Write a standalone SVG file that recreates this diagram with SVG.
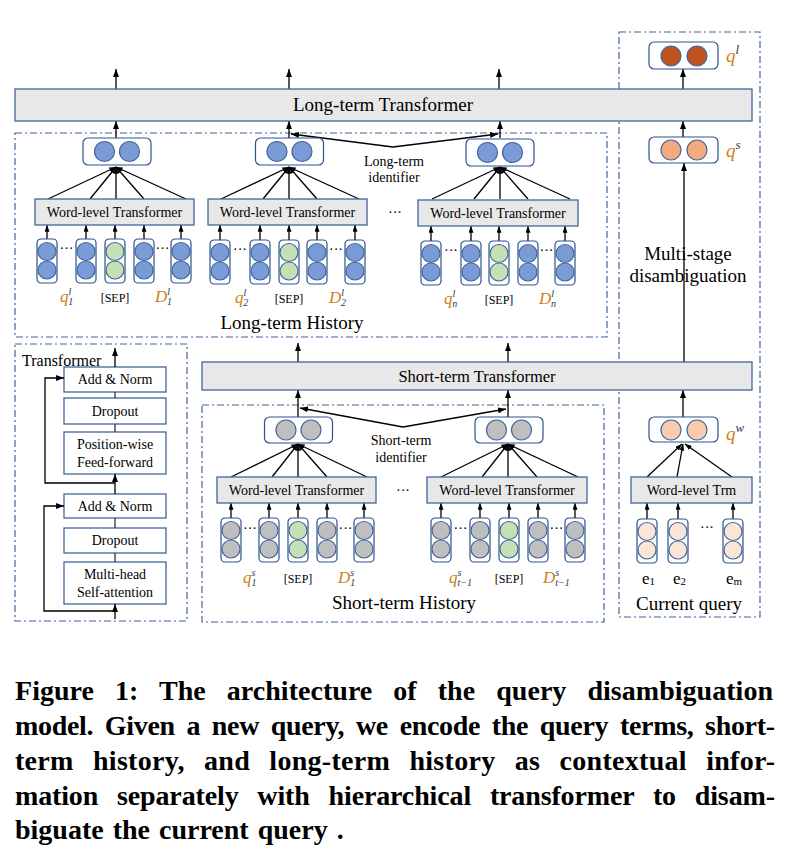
<svg xmlns="http://www.w3.org/2000/svg" xmlns:xlink="http://www.w3.org/1999/xlink" width="808" height="860" viewBox="0 0 808 860">
<style>
text{font-family:"Liberation Serif","Times New Roman",serif;fill:#000}
.gbox{fill:#E8E8E8;stroke:#41669C;stroke-width:1.3}
.wbox{fill:#fff;stroke:#41669C;stroke-width:1.3}
.rbox{fill:#fff;stroke:#2F528F;stroke-width:1.2}
.dd{fill:none;stroke:#41669C;stroke-width:1.2;stroke-dasharray:7 3 2 3}
.ln{fill:none;stroke:#000;stroke-width:1.3}
.cB{fill:#7B9BD6;stroke:#41669C;stroke-width:1.2}
.cG{fill:#C5E0B4;stroke:#41669C;stroke-width:1.2}
.cY{fill:#BFBFBF;stroke:#41669C;stroke-width:1.2}
.cP{fill:#FBE5D6;stroke:#41669C;stroke-width:1.2}
.cQ{fill:#F4A97E;stroke:#41669C;stroke-width:1.2}
.cW{fill:#F8CBAD;stroke:#41669C;stroke-width:1.2}
.cL{fill:#BF531F;stroke:#41669C;stroke-width:1.2}
.t13{font-size:14px}
.t14{font-size:14px}
.t17{font-size:17px}
.t19{font-size:19px}
.sep{font-size:12px}
.mq{font-style:italic;fill:#C98211}
.ms{font-size:10px;font-style:italic;fill:#1F3864}
.cap{font-family:"Liberation Serif","Times New Roman",serif;font-weight:bold;font-size:28px}
</style>
<defs>
<marker id="ah" viewBox="0 0 8 6" refX="8" refY="3" markerWidth="8" markerHeight="6" markerUnits="userSpaceOnUse" orient="auto"><path d="M0,0 L8,3 L0,6 z" fill="#000"/></marker>
<marker id="af" viewBox="0 0 8 6" refX="8" refY="3" markerWidth="7" markerHeight="5" markerUnits="userSpaceOnUse" orient="auto"><path d="M0,0 L8,3 L0,6 z" fill="#000"/></marker>
<g id="colB"><rect class="rbox" x="-10" y="0" width="20" height="44" rx="4"/><circle class="cB" cx="0" cy="12.5" r="9"/><circle class="cB" cx="0" cy="31" r="9"/></g>
<g id="colBG"><rect class="rbox" x="-10" y="0" width="20" height="44" rx="4"/><circle class="cG" cx="0" cy="12.5" r="9"/><circle class="cG" cx="0" cy="31" r="9"/></g>
<g id="colY"><rect class="rbox" x="-10" y="0" width="20" height="44" rx="4"/><circle class="cY" cx="0" cy="12.5" r="9"/><circle class="cY" cx="0" cy="31" r="9"/></g>
<g id="colYG"><rect class="rbox" x="-10" y="0" width="20" height="44" rx="4"/><circle class="cG" cx="0" cy="12.5" r="9"/><circle class="cG" cx="0" cy="31" r="9"/></g>
<g id="colP"><rect class="rbox" x="-10" y="0" width="20" height="44" rx="4"/><circle class="cP" cx="0" cy="12.5" r="9"/><circle class="cP" cx="0" cy="31" r="9"/></g>
<g id="sB"><rect class="rbox" x="-34" y="0" width="68" height="27" rx="5"/><circle class="cB" cx="-12.5" cy="13.5" r="10"/><circle class="cB" cx="12.5" cy="13.5" r="10"/></g>
<g id="sY"><rect class="rbox" x="-34" y="0" width="68" height="26" rx="5"/><circle class="cY" cx="-12.5" cy="13" r="10"/><circle class="cY" cx="12.5" cy="13" r="10"/></g>
</defs>
<rect width="808" height="860" fill="#fff"/>

<!-- containers -->
<g id="lt-history">
<rect class="dd" x="15" y="133" width="592" height="204"/>
<text class="t19" x="292" y="329" text-anchor="middle">Long-term History</text>
</g>
<g id="st-history">
<rect class="dd" x="202" y="405" width="402" height="217"/>
<text class="t19" x="404" y="609" text-anchor="middle">Short-term History</text>
</g>
<g id="current-query">
<rect class="dd" x="619" y="32" width="141" height="585"/>
<text class="t19" x="689" y="610" text-anchor="middle">Current query</text>
</g>

<!-- connectors -->
<g id="connectors">
<line class="ln" x1="116" y1="89" x2="116" y2="69" marker-end="url(#ah)"/>
<line class="ln" x1="289" y1="89" x2="289" y2="69" marker-end="url(#ah)"/>
<line class="ln" x1="499" y1="89" x2="499" y2="69" marker-end="url(#ah)"/>
<line class="ln" x1="683" y1="89" x2="683" y2="69" marker-end="url(#ah)"/>
<line class="ln" x1="116" y1="138" x2="116" y2="121" marker-end="url(#ah)"/>
<line class="ln" x1="289" y1="138" x2="289" y2="121" marker-end="url(#ah)"/>
<line class="ln" x1="500" y1="138" x2="500" y2="121" marker-end="url(#ah)"/>
<line class="ln" x1="683" y1="137" x2="683" y2="121" marker-end="url(#ah)"/>
<line class="ln" x1="393" y1="147" x2="291" y2="134" marker-end="url(#ah)"/>
<line class="ln" x1="393" y1="147" x2="498" y2="134" marker-end="url(#ah)"/>
<g marker-end="url(#af)">
<line class="ln" x1="48" y1="199" x2="116" y2="167"/><line class="ln" x1="90" y1="199" x2="116" y2="167"/><line class="ln" x1="116" y1="199" x2="116" y2="167"/><line class="ln" x1="144" y1="199" x2="116" y2="167"/><line class="ln" x1="186" y1="199" x2="116" y2="167"/>
<line class="ln" x1="221" y1="199" x2="289" y2="167"/><line class="ln" x1="263" y1="199" x2="289" y2="167"/><line class="ln" x1="289" y1="199" x2="289" y2="167"/><line class="ln" x1="317" y1="199" x2="289" y2="167"/><line class="ln" x1="359" y1="199" x2="289" y2="167"/>
<line class="ln" x1="432" y1="199" x2="500" y2="167"/><line class="ln" x1="474" y1="199" x2="500" y2="167"/><line class="ln" x1="500" y1="199" x2="500" y2="167"/><line class="ln" x1="528" y1="199" x2="500" y2="167"/><line class="ln" x1="570" y1="199" x2="500" y2="167"/>
<line class="ln" x1="231" y1="477" x2="298" y2="444"/><line class="ln" x1="272" y1="477" x2="298" y2="444"/><line class="ln" x1="298" y1="477" x2="298" y2="444"/><line class="ln" x1="327" y1="477" x2="298" y2="444"/><line class="ln" x1="367" y1="477" x2="298" y2="444"/>
<line class="ln" x1="441" y1="477" x2="508" y2="444"/><line class="ln" x1="482" y1="477" x2="508" y2="444"/><line class="ln" x1="508" y1="477" x2="508" y2="444"/><line class="ln" x1="537" y1="477" x2="508" y2="444"/><line class="ln" x1="578" y1="477" x2="508" y2="444"/>
<line class="ln" x1="647" y1="477" x2="682" y2="444"/><line class="ln" x1="677" y1="477" x2="683" y2="444"/><line class="ln" x1="732" y1="477" x2="685" y2="444"/>
</g>
<g marker-end="url(#af)">
<line class="ln" x1="47" y1="239" x2="47" y2="225"/><line class="ln" x1="86" y1="239" x2="86" y2="225"/><line class="ln" x1="115" y1="239" x2="115" y2="225"/><line class="ln" x1="144" y1="239" x2="144" y2="225"/><line class="ln" x1="181" y1="239" x2="181" y2="225"/>
<line class="ln" x1="220" y1="240" x2="220" y2="225"/><line class="ln" x1="260" y1="240" x2="260" y2="225"/><line class="ln" x1="289" y1="240" x2="289" y2="225"/><line class="ln" x1="317" y1="240" x2="317" y2="225"/><line class="ln" x1="355" y1="240" x2="355" y2="225"/>
<line class="ln" x1="431" y1="241" x2="431" y2="226"/><line class="ln" x1="471" y1="241" x2="471" y2="226"/><line class="ln" x1="499" y1="241" x2="499" y2="226"/><line class="ln" x1="528" y1="241" x2="528" y2="226"/><line class="ln" x1="565" y1="241" x2="565" y2="226"/>
<line class="ln" x1="231" y1="518" x2="231" y2="503"/><line class="ln" x1="269" y1="518" x2="269" y2="503"/><line class="ln" x1="298" y1="518" x2="298" y2="503"/><line class="ln" x1="327" y1="518" x2="327" y2="503"/><line class="ln" x1="364" y1="518" x2="364" y2="503"/>
<line class="ln" x1="441" y1="518" x2="441" y2="503"/><line class="ln" x1="480" y1="518" x2="480" y2="503"/><line class="ln" x1="509" y1="518" x2="509" y2="503"/><line class="ln" x1="538" y1="518" x2="538" y2="503"/><line class="ln" x1="575" y1="518" x2="575" y2="503"/>
<line class="ln" x1="647" y1="519" x2="647" y2="503"/><line class="ln" x1="678" y1="519" x2="678" y2="503"/><line class="ln" x1="733" y1="519" x2="733" y2="503"/>
</g>
<line class="ln" x1="298" y1="362" x2="298" y2="343" marker-end="url(#ah)"/>
<line class="ln" x1="508" y1="362" x2="508" y2="343" marker-end="url(#ah)"/>
<line class="ln" x1="298" y1="417" x2="298" y2="390" marker-end="url(#ah)"/>
<line class="ln" x1="508" y1="417" x2="508" y2="390" marker-end="url(#ah)"/>
<line class="ln" x1="403" y1="427" x2="300" y2="408" marker-end="url(#ah)"/>
<line class="ln" x1="403" y1="427" x2="506" y2="409" marker-end="url(#ah)"/>
<line class="ln" x1="683" y1="417" x2="683" y2="390" marker-end="url(#ah)"/>
<line class="ln" x1="684" y1="362" x2="684" y2="163" marker-end="url(#ah)"/>
</g>

<g id="lt-transformer">
<rect class="gbox" x="15" y="89" width="737" height="32"/>
<text x="383" y="111" text-anchor="middle" style="font-size:19px">Long-term Transformer</text>
</g>
<g id="st-transformer">
<rect class="gbox" x="202" y="362" width="550" height="28"/>
<text x="477" y="382" text-anchor="middle" style="font-size:16.5px">Short-term Transformer</text>
</g>

<g id="lt-g1">
<use xlink:href="#sB" x="117" y="138"/>
<rect class="gbox" x="35" y="199" width="159" height="26"/>
<text class="t13" x="114.5" y="217" text-anchor="middle">Word-level Transformer</text>
<use xlink:href="#colB" x="47" y="239"/><use xlink:href="#colB" x="86" y="239"/><use xlink:href="#colBG" x="115" y="239"/><use xlink:href="#colB" x="144" y="239"/><use xlink:href="#colB" x="181" y="239"/>
<text class="t13" x="66.5" y="253" text-anchor="middle">···</text><text class="t13" x="162.5" y="253" text-anchor="middle">···</text>
<text class="t17" x="60" y="302"><tspan class="mq">q</tspan><tspan class="ms" dy="-7">l</tspan><tspan class="ms" dx="-3" dy="10">1</tspan></text>
<text class="sep" x="115" y="302" text-anchor="middle">[SEP]</text>
<text class="t17" x="155" y="302"><tspan class="mq">D</tspan><tspan class="ms" dy="-7">l</tspan><tspan class="ms" dx="-3" dy="10">1</tspan></text>
</g>
<g id="lt-g2">
<use xlink:href="#sB" x="289.5" y="138"/>
<rect class="gbox" x="208" y="199" width="159" height="26"/>
<text class="t13" x="287.5" y="217" text-anchor="middle">Word-level Transformer</text>
<use xlink:href="#colB" x="220" y="240"/><use xlink:href="#colB" x="260" y="240"/><use xlink:href="#colBG" x="289" y="240"/><use xlink:href="#colB" x="317" y="240"/><use xlink:href="#colB" x="355" y="240"/>
<text class="t13" x="240" y="254" text-anchor="middle">···</text><text class="t13" x="336" y="254" text-anchor="middle">···</text>
<text class="t17" x="235" y="303"><tspan class="mq">q</tspan><tspan class="ms" dy="-7">l</tspan><tspan class="ms" dx="-3" dy="10">2</tspan></text>
<text class="sep" x="289" y="303" text-anchor="middle">[SEP]</text>
<text class="t17" x="329" y="303"><tspan class="mq">D</tspan><tspan class="ms" dy="-7">l</tspan><tspan class="ms" dx="-3" dy="10">2</tspan></text>
</g>
<text class="t14" x="395" y="217" text-anchor="middle">···</text>
<g id="lt-g3">
<use xlink:href="#sB" x="500" y="139"/>
<rect class="gbox" x="418" y="200" width="160" height="26"/>
<text class="t13" x="498" y="218" text-anchor="middle">Word-level Transformer</text>
<use xlink:href="#colB" x="431" y="241"/><use xlink:href="#colB" x="471" y="241"/><use xlink:href="#colBG" x="499" y="241"/><use xlink:href="#colB" x="528" y="241"/><use xlink:href="#colB" x="565" y="241"/>
<text class="t13" x="451" y="255" text-anchor="middle">···</text><text class="t13" x="546.5" y="255" text-anchor="middle">···</text>
<text class="t17" x="444" y="304"><tspan class="mq">q</tspan><tspan class="ms" dy="-7">l</tspan><tspan class="ms" dx="-3" dy="10">n</tspan></text>
<text class="sep" x="499" y="304" text-anchor="middle">[SEP]</text>
<text class="t17" x="539" y="304"><tspan class="mq">D</tspan><tspan class="ms" dy="-7">l</tspan><tspan class="ms" dx="-3" dy="10">n</tspan></text>
</g>
<g id="lt-identifier">
<text class="t14" x="394" y="166" text-anchor="middle">Long-term</text>
<text class="t14" x="394" y="182" text-anchor="middle">identifier</text>
</g>

<g id="st-g1">
<use xlink:href="#sY" x="298.5" y="417"/>
<rect class="gbox" x="217" y="477" width="159" height="26"/>
<text class="t13" x="296.5" y="495" text-anchor="middle">Word-level Transformer</text>
<use xlink:href="#colY" x="231" y="518"/><use xlink:href="#colY" x="269" y="518"/><use xlink:href="#colYG" x="298" y="518"/><use xlink:href="#colY" x="327" y="518"/><use xlink:href="#colY" x="364" y="518"/>
<text class="t13" x="250" y="533" text-anchor="middle">···</text><text class="t13" x="345.5" y="533" text-anchor="middle">···</text>
<text class="t17" x="243" y="583"><tspan class="mq">q</tspan><tspan class="ms" dy="-7">s</tspan><tspan class="ms" dx="-4" dy="10">1</tspan></text>
<text class="sep" x="298" y="583" text-anchor="middle">[SEP]</text>
<text class="t17" x="338" y="583"><tspan class="mq">D</tspan><tspan class="ms" dy="-7">s</tspan><tspan class="ms" dx="-4" dy="10">1</tspan></text>
</g>
<text class="t14" x="403" y="495" text-anchor="middle">···</text>
<g id="st-g2">
<use xlink:href="#sY" x="509" y="417"/>
<rect class="gbox" x="427" y="477" width="160" height="26"/>
<text class="t13" x="507" y="495" text-anchor="middle">Word-level Transformer</text>
<use xlink:href="#colY" x="441" y="518"/><use xlink:href="#colY" x="480" y="518"/><use xlink:href="#colYG" x="509" y="518"/><use xlink:href="#colY" x="538" y="518"/><use xlink:href="#colY" x="575" y="518"/>
<text class="t13" x="460.5" y="533" text-anchor="middle">···</text><text class="t13" x="556.5" y="533" text-anchor="middle">···</text>
<text class="t17" x="449" y="583"><tspan class="mq">q</tspan><tspan class="ms" dy="-7">s</tspan><tspan class="ms" dx="-4" dy="10">t−1</tspan></text>
<text class="sep" x="509" y="583" text-anchor="middle">[SEP]</text>
<text class="t17" x="543" y="583"><tspan class="mq">D</tspan><tspan class="ms" dy="-7">s</tspan><tspan class="ms" dx="-4" dy="10">t−1</tspan></text>
</g>
<g id="st-identifier">
<text class="t14" x="401" y="445" text-anchor="middle">Short-term</text>
<text class="t14" x="401" y="462" text-anchor="middle">identifier</text>
</g>

<g id="ql">
<rect class="rbox" x="649" y="42" width="69" height="27" rx="5"/>
<circle class="cL" cx="671" cy="56" r="10"/><circle class="cL" cx="697" cy="56" r="10"/>
<text x="726" y="62" style="font-size:19px"><tspan class="mq">q</tspan><tspan class="ms" dy="-8" style="font-size:13px">l</tspan></text>
</g>
<g id="qs">
<rect class="rbox" x="649" y="137" width="69" height="26" rx="5"/>
<circle class="cQ" cx="671" cy="150" r="10"/><circle class="cQ" cx="697" cy="150" r="10"/>
<text x="726" y="157" style="font-size:19px"><tspan class="mq">q</tspan><tspan class="ms" dy="-8" style="font-size:13px">s</tspan></text>
</g>
<g id="multi-stage">
<text class="t19" x="688" y="260" text-anchor="middle">Multi-stage</text>
<text class="t19" x="688" y="282" text-anchor="middle">disambiguation</text>
</g>
<g id="qw">
<rect class="rbox" x="649" y="417" width="69" height="25" rx="5"/>
<circle class="cW" cx="671" cy="430" r="10"/><circle class="cW" cx="697" cy="430" r="10"/>
<text x="726" y="440" style="font-size:19px"><tspan class="mq">q</tspan><tspan class="ms" dy="-8" style="font-size:13px">w</tspan></text>
</g>
<g id="cq-word">
<rect class="gbox" x="631" y="477" width="121" height="26"/>
<text class="t14" x="691.5" y="495" text-anchor="middle">Word-level Trm</text>
<use xlink:href="#colP" x="647" y="519"/><use xlink:href="#colP" x="678" y="519"/><use xlink:href="#colP" x="733" y="519"/>
<text class="t13" x="707" y="532" text-anchor="middle">···</text>
<text x="642" y="584" style="font-size:17px">e<tspan style="font-size:11px" dy="1">1</tspan></text>
<text x="673" y="584" style="font-size:17px">e<tspan style="font-size:11px" dy="1">2</tspan></text>
<text x="726" y="584" style="font-size:17px">e<tspan style="font-size:11px" dy="1">m</tspan></text>
</g>

<g id="transformer-detail">
<rect class="dd" x="15" y="344" width="172" height="277"/>
<text x="22" y="366" style="font-size:16px">Transformer</text>
<rect class="wbox" x="64" y="367" width="102" height="25"/>
<text class="t14" x="115" y="384" text-anchor="middle">Add &amp; Norm</text>
<rect class="wbox" x="64" y="398" width="102" height="26"/>
<text class="t14" x="115" y="416" text-anchor="middle">Dropout</text>
<rect class="wbox" x="64" y="432" width="102" height="42"/>
<text class="t14" x="115" y="449" text-anchor="middle">Position-wise</text>
<text class="t14" x="115" y="467" text-anchor="middle">Feed-forward</text>
<rect class="wbox" x="64" y="494" width="102" height="24"/>
<text class="t14" x="115" y="511" text-anchor="middle">Add &amp; Norm</text>
<rect class="wbox" x="64" y="528" width="102" height="25"/>
<text class="t14" x="115" y="545" text-anchor="middle">Dropout</text>
<rect class="wbox" x="64" y="562" width="102" height="42"/>
<text class="t14" x="115" y="579" text-anchor="middle">Multi-head</text>
<text class="t14" x="115" y="597" text-anchor="middle">Self-attention</text>
<line class="ln" x1="115" y1="392" x2="115" y2="398" style="stroke:#333"/>
<line class="ln" x1="115" y1="424" x2="115" y2="432" style="stroke:#333"/>
<line class="ln" x1="115" y1="518" x2="115" y2="528" style="stroke:#333"/>
<line class="ln" x1="115" y1="553" x2="115" y2="562" style="stroke:#333"/>
<line class="ln" x1="115" y1="367" x2="115" y2="348" marker-end="url(#ah)"/>
<line class="ln" x1="115" y1="494" x2="115" y2="474" marker-end="url(#ah)"/>
<line class="ln" x1="115" y1="619" x2="115" y2="604" marker-end="url(#ah)"/>
<path class="ln" d="M115,483 H45 V378 H64" marker-end="url(#ah)"/>
<path class="ln" d="M115,611 H44 V506 H64" marker-end="url(#ah)"/>
</g>

<g id="caption">
<text class="cap" x="15" y="700" textLength="758" style="word-spacing:14px">Figure 1: The architecture of the query disambiguation</text>
<text class="cap" x="15" y="735" textLength="760" style="word-spacing:5px">model. Given a new query, we encode the query terms, short-</text>
<text class="cap" x="15" y="770" textLength="760" style="word-spacing:12px">term history, and long-term history as contextual infor-</text>
<text class="cap" x="15" y="805" textLength="760" style="word-spacing:12px">mation separately with hierarchical transformer to disam-</text>
<text class="cap" x="15" y="839" style="word-spacing:2px">biguate the current query .</text>
</g>
</svg>
